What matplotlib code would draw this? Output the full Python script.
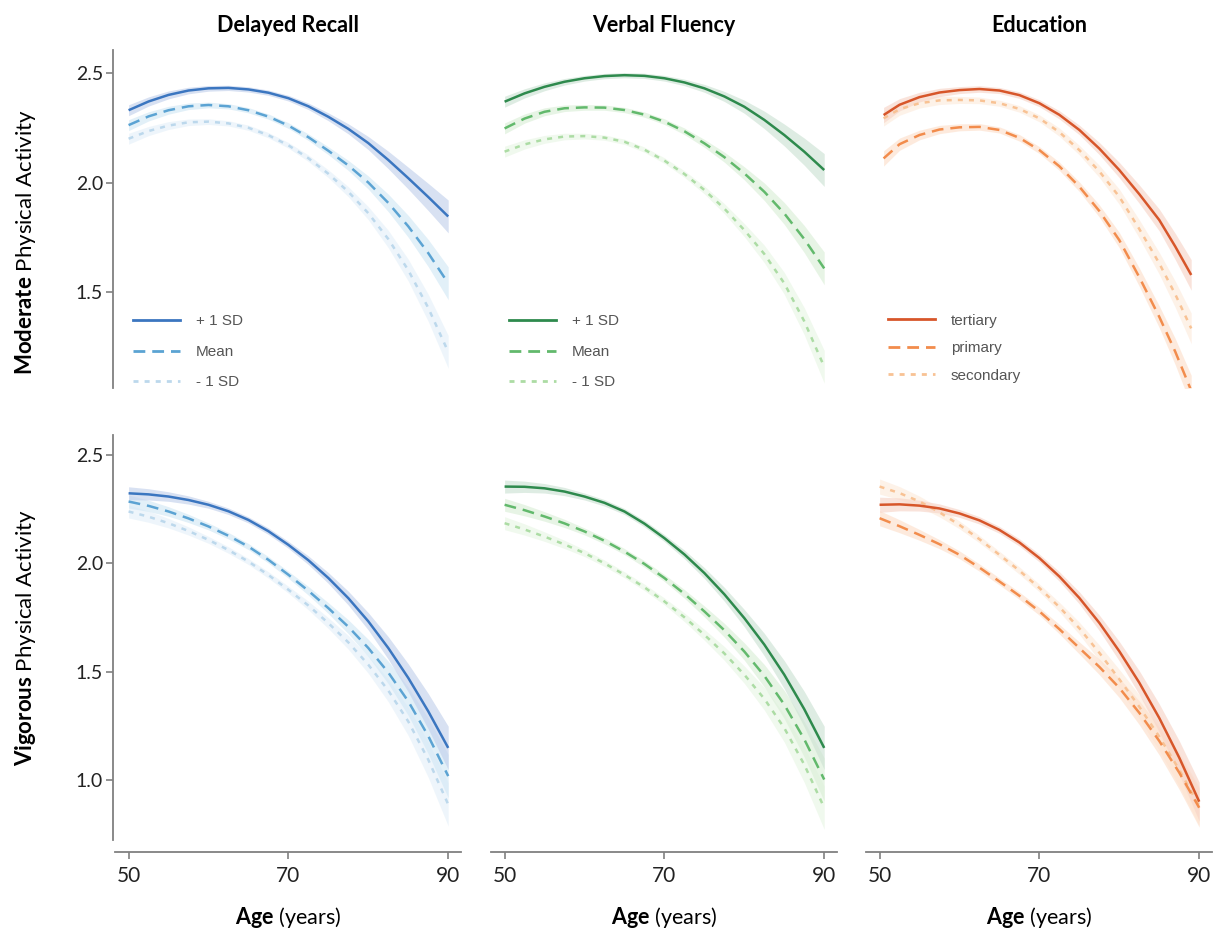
import matplotlib
matplotlib.use('Agg')
import matplotlib.pyplot as plt
from matplotlib.lines import Line2D

plt.rcParams['font.family'] = ['Lato', 'DejaVu Sans']
plt.rcParams['mathtext.fontset'] = 'custom'
plt.rcParams['mathtext.rm'] = 'Lato'
plt.rcParams['mathtext.bf'] = 'Lato:bold'
plt.rcParams['lines.scale_dashes'] = False

# ---------------- data ----------------
col_titles = ["Delayed Recall", "Verbal Fluency", "Education"]
row_labels = [r"$\mathbf{Moderate}$ Physical Activity", r"$\mathbf{Vigorous}$ Physical Activity"]
x_label = r"$\mathbf{Age}$ (years)"
x_ticks = [50, 70, 90]
y_ticks_top = [1.5, 2.0, 2.5]
y_ticks_bot = [1.0, 1.5, 2.0, 2.5]

sd_labels = ["+ 1 SD", "Mean", "- 1 SD"]
edu_labels = ["tertiary", "primary", "secondary"]

ages = [50, 52.5, 55, 57.5, 60, 62.5, 65, 67.5, 70, 72.5, 75, 77.5, 80, 82.5, 85, 87.5, 90]
edu_mod_ages = [50.5, 52.5, 55, 57.5, 60, 62.5, 65, 67.5, 70, 72.5, 75, 77.5, 80, 82.5, 85, 87, 89]

# Moderate physical activity
dr_mod_hi = [2.33, 2.370, 2.40, 2.420, 2.43, 2.432, 2.425, 2.410, 2.385, 2.348, 2.30, 2.245, 2.18, 2.103, 2.02, 1.934, 1.845]
dr_mod_mean = [2.262, 2.302, 2.33, 2.348, 2.354, 2.348, 2.33, 2.301, 2.26, 2.207, 2.145, 2.078, 2.00, 1.907, 1.80, 1.678, 1.54]
dr_mod_lo = [2.20, 2.235, 2.26, 2.275, 2.278, 2.270, 2.25, 2.216, 2.17, 2.111, 2.04, 1.958, 1.86, 1.742, 1.60, 1.428, 1.227]
dr_mod_ci = [0.025, 0.021, 0.018, 0.015, 0.013, 0.012, 0.012, 0.012, 0.013, 0.015, 0.018, 0.023, 0.03, 0.04, 0.05, 0.062, 0.075]

vf_mod_hi = [2.369, 2.407, 2.437, 2.460, 2.476, 2.486, 2.49, 2.487, 2.476, 2.457, 2.43, 2.393, 2.346, 2.286, 2.217, 2.141, 2.057]
vf_mod_mean = [2.247, 2.292, 2.323, 2.339, 2.343, 2.342, 2.331, 2.310, 2.278, 2.234, 2.179, 2.116, 2.042, 1.958, 1.859, 1.742, 1.608]
vf_mod_lo = [2.141, 2.174, 2.197, 2.210, 2.212, 2.205, 2.186, 2.150, 2.10, 2.039, 1.966, 1.881, 1.783, 1.674, 1.54, 1.367, 1.159]
vf_mod_ci = [0.025, 0.021, 0.018, 0.015, 0.013, 0.012, 0.012, 0.012, 0.013, 0.015, 0.018, 0.023, 0.03, 0.04, 0.05, 0.062, 0.075]

edu_mod_ter = [2.308, 2.355, 2.39, 2.411, 2.422, 2.427, 2.42, 2.399, 2.362, 2.309, 2.24, 2.155, 2.057, 1.947, 1.829, 1.708, 1.578]
edu_mod_pri = [2.11, 2.175, 2.217, 2.242, 2.252, 2.254, 2.24, 2.204, 2.148, 2.074, 1.981, 1.870, 1.737, 1.568, 1.387, 1.228, 1.05]
edu_mod_sec = [2.293, 2.335, 2.362, 2.375, 2.377, 2.375, 2.362, 2.336, 2.293, 2.230, 2.148, 2.051, 1.935, 1.788, 1.631, 1.49, 1.334]
edu_mod_ci = [0.035, 0.028, 0.022, 0.019, 0.016, 0.015, 0.014, 0.015, 0.016, 0.019, 0.022, 0.028, 0.035, 0.042, 0.05, 0.06, 0.07]

# Vigorous physical activity
dr_vig_hi = [2.323, 2.318, 2.308, 2.292, 2.27, 2.240, 2.20, 2.148, 2.085, 2.014, 1.932, 1.839, 1.732, 1.609, 1.471, 1.317, 1.148]
dr_vig_mean = [2.285, 2.265, 2.239, 2.207, 2.17, 2.127, 2.077, 2.016, 1.947, 1.873, 1.793, 1.707, 1.609, 1.496, 1.363, 1.203, 1.018]
dr_vig_lo = [2.239, 2.215, 2.185, 2.149, 2.108, 2.061, 2.008, 1.946, 1.878, 1.805, 1.724, 1.635, 1.532, 1.413, 1.27, 1.094, 0.887]
dr_vig_ci = [0.03, 0.026, 0.022, 0.019, 0.016, 0.015, 0.014, 0.015, 0.016, 0.02, 0.025, 0.032, 0.04, 0.052, 0.065, 0.082, 0.1]

vf_vig_hi = [2.354, 2.353, 2.346, 2.331, 2.308, 2.279, 2.239, 2.183, 2.116, 2.041, 1.955, 1.857, 1.747, 1.625, 1.486, 1.327, 1.148]
vf_vig_mean = [2.27, 2.245, 2.216, 2.184, 2.147, 2.104, 2.054, 1.997, 1.932, 1.859, 1.778, 1.691, 1.593, 1.481, 1.348, 1.188, 1.002]
vf_vig_lo = [2.185, 2.156, 2.123, 2.087, 2.047, 2.0, 1.947, 1.889, 1.824, 1.751, 1.67, 1.584, 1.486, 1.375, 1.24, 1.071, 0.872]
vf_vig_ci = [0.03, 0.026, 0.022, 0.019, 0.016, 0.015, 0.014, 0.015, 0.016, 0.02, 0.025, 0.032, 0.04, 0.052, 0.065, 0.082, 0.1]

edu_vig_ter = [2.27, 2.272, 2.266, 2.253, 2.23, 2.198, 2.154, 2.096, 2.024, 1.939, 1.84, 1.725, 1.594, 1.449, 1.286, 1.103, 0.90]
edu_vig_pri = [2.208, 2.171, 2.131, 2.088, 2.039, 1.980, 1.916, 1.850, 1.778, 1.696, 1.609, 1.522, 1.425, 1.310, 1.18, 1.034, 0.872]
edu_vig_sec = [2.354, 2.324, 2.285, 2.235, 2.177, 2.111, 2.039, 1.966, 1.886, 1.798, 1.70, 1.587, 1.465, 1.338, 1.20, 1.047, 0.88]
edu_vig_ci = [0.035, 0.03, 0.025, 0.021, 0.018, 0.017, 0.016, 0.017, 0.018, 0.022, 0.028, 0.036, 0.045, 0.055, 0.065, 0.078, 0.09]

# ---------------- styles ----------------
blue_lines = ['#3b76c0', '#5ba3d3', '#bcd8ec']
blue_bands = ['#c3d1ec', '#d3e8f5', '#e6f1f9']
green_lines = ['#2e8a4d', '#62b96c', '#acdca4']
green_bands = ['#cde3d4', '#dbefd8', '#e9f6e5']
orange_lines = ['#d7562a', '#f28c4c', '#f8c294']
orange_bands = ['#f7d5c8', '#fde0cc', '#fdebdd']
styles = ['-', (0, (8.5, 5.0)), (0, (3.6, 4.4))]

W, H = 1219, 933
col_left = [115, 491, 866]
col_w = 346
rows = [(50, 388), (435, 840)]
ylims = [(1.062, 2.605), (0.723, 2.592)]
spine_col = '#808080'

fig = plt.figure(figsize=(W / 100, H / 100), dpi=100)

panels = [
    [(ages, [dr_mod_hi, dr_mod_mean, dr_mod_lo], dr_mod_ci, blue_lines, blue_bands, sd_labels),
     (ages, [vf_mod_hi, vf_mod_mean, vf_mod_lo], vf_mod_ci, green_lines, green_bands, sd_labels),
     (edu_mod_ages, [edu_mod_ter, edu_mod_pri, edu_mod_sec], edu_mod_ci, orange_lines, orange_bands, edu_labels)],
    [(ages, [dr_vig_hi, dr_vig_mean, dr_vig_lo], dr_vig_ci, blue_lines, blue_bands, sd_labels),
     (ages, [vf_vig_hi, vf_vig_mean, vf_vig_lo], vf_vig_ci, green_lines, green_bands, sd_labels),
     (ages, [edu_vig_ter, edu_vig_pri, edu_vig_sec], edu_vig_ci, orange_lines, orange_bands, edu_labels)],
]

for r in range(2):
    top, bot = rows[r]
    for c in range(3):
        ax = fig.add_axes([col_left[c] / W, (H - bot) / H, col_w / W, (bot - top) / H])
        x, series, ci, lcols, bcols, labels = panels[r][c]
        for i in [2, 1, 0]:
            y = series[i]
            lo = [a - b for a, b in zip(y, ci)]
            hi = [a + b for a, b in zip(y, ci)]
            ax.fill_between(x, lo, hi, color=bcols[i], alpha=0.65, lw=0, zorder=1)
        for i in [2, 1, 0]:
            ax.plot(x, series[i], color=lcols[i], lw=1.8, ls=styles[i],
                    solid_capstyle='butt', dash_capstyle='butt', zorder=3)
        ax.set_xlim(48.3, 91.6)
        ax.set_ylim(*ylims[r])
        for s in ['top', 'right']:
            ax.spines[s].set_visible(False)
        ax.spines['left'].set_visible(c == 0)
        ax.spines['bottom'].set_visible(r == 1)
        ax.spines['left'].set_color(spine_col)
        ax.spines['bottom'].set_color(spine_col)
        ax.spines['left'].set_linewidth(1.3)
        ax.spines['bottom'].set_linewidth(1.3)
        ax.spines['left'].set_position(('outward', 1.5))
        ax.spines['bottom'].set_position(('outward', 8.6))
        ax.set_xticks(x_ticks)
        ax.set_yticks(y_ticks_top if r == 0 else y_ticks_bot)
        ax.tick_params(axis='both', colors=spine_col, labelcolor='#222222',
                       length=5, width=1.2)
        ax.tick_params(axis='y', left=(c == 0), labelleft=(c == 0), pad=2, labelsize=14)
        ax.tick_params(axis='x', bottom=(r == 1), labelbottom=(r == 1), pad=5, labelsize=15)
        ax.patch.set_visible(False)
        if r == 0:
            ax.set_title(col_titles[c], fontsize=15.5, fontweight='bold', pad=13)
            handles = [Line2D([], [], color=lcols[i], lw=2.0, ls=styles[i],
                              dash_capstyle='butt') for i in range(3)]
            if c < 2:
                lx, ly, lsp = 0.052, -0.004, 1.08
            else:
                lx, ly, lsp = 0.064, 0.016, 0.88
            leg = ax.legend(handles, labels, loc='lower left', bbox_to_anchor=(lx, ly),
                            frameon=False, borderpad=0, borderaxespad=0,
                            handlelength=3.05, handletextpad=1.05, labelspacing=lsp,
                            prop={'family': 'Liberation Sans', 'size': 11})
            for t in leg.get_texts():
                t.set_color('#555555')
        else:
            ax.set_xlabel(x_label, fontsize=15.5, labelpad=14)

fig.text(26 / W, (H - 242) / H, row_labels[0], rotation=90, ha='center', va='center', fontsize=16)
fig.text(26 / W, (H - 638) / H, row_labels[1], rotation=90, ha='center', va='center', fontsize=16)

fig.savefig('out.png', dpi=100, facecolor='white')
